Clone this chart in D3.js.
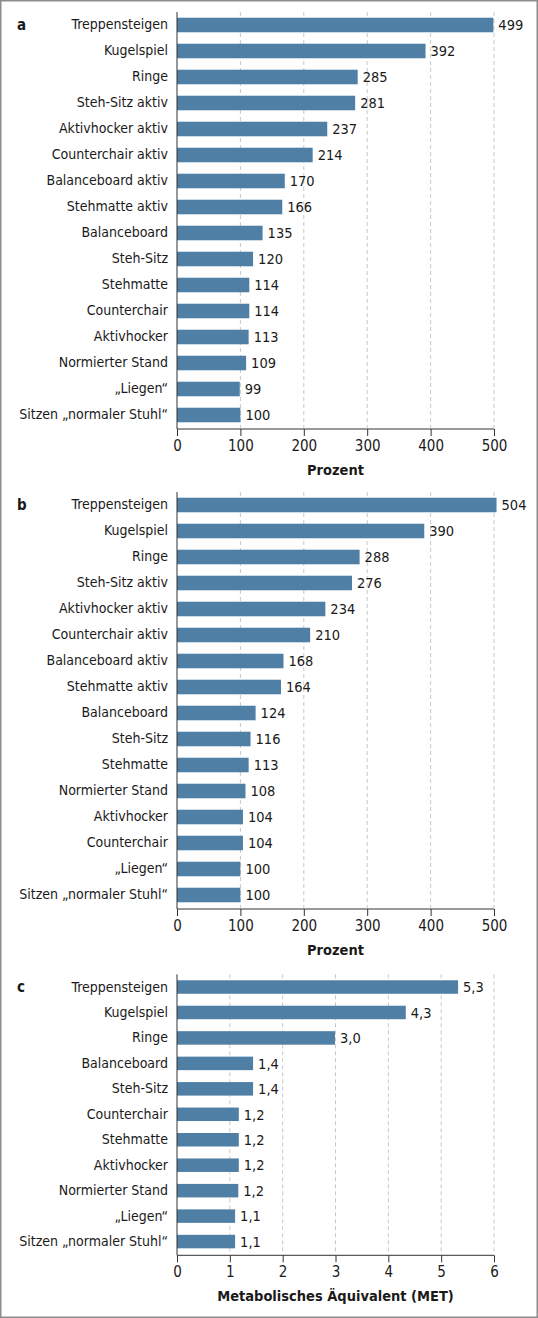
<html>
<head>
  <meta http-equiv="Content-Type" content="text/html;charset=utf-8"/>
  <script src="https://cdn.jsdelivr.net/npm/d3@7/dist/d3.min.js"></script>
  <style>
    body { margin: 0; background: #fff; }
    svg text { font-family: "Liberation Sans Narrow", "DejaVu Sans Condensed", "Liberation Sans", sans-serif; fill: #1a1a1a; }
    .grid line { stroke: #c8c8c8; stroke-dasharray: 4,3; }
    .axis path, .axis line { stroke: #333; }
  </style>
</head>
<body>
  <div id="chart"></div>
  <script>
  // panel a: Prozent (Variante 1)
  var catsA = ["Treppensteigen", "Kugelspiel", "Ringe", "Steh-Sitz aktiv", "Aktivhocker aktiv",
    "Counterchair aktiv", "Balanceboard aktiv", "Stehmatte aktiv", "Balanceboard", "Steh-Sitz",
    "Stehmatte", "Counterchair", "Aktivhocker", "Normierter Stand", "\u201eLiegen\u201c",
    "Sitzen \u201enormaler Stuhl\u201c"];
  var valsA = [499, 392, 285, 281, 237, 214, 170, 166, 135, 120, 114, 114, 113, 109, 99, 100];

  // panel b: Prozent (Variante 2)
  var catsB = ["Treppensteigen", "Kugelspiel", "Ringe", "Steh-Sitz aktiv", "Aktivhocker aktiv",
    "Counterchair aktiv", "Balanceboard aktiv", "Stehmatte aktiv", "Balanceboard", "Steh-Sitz",
    "Stehmatte", "Normierter Stand", "Aktivhocker", "Counterchair", "\u201eLiegen\u201c",
    "Sitzen \u201enormaler Stuhl\u201c"];
  var valsB = [504, 390, 288, 276, 234, 210, 168, 164, 124, 116, 113, 108, 104, 104, 100, 100];

  // panel c: MET
  var catsC = ["Treppensteigen", "Kugelspiel", "Ringe", "Balanceboard", "Steh-Sitz", "Counterchair",
    "Stehmatte", "Aktivhocker", "Normierter Stand", "\u201eLiegen\u201c", "Sitzen \u201enormaler Stuhl\u201c"];
  var valsC = [5.32, 4.33, 2.99, 1.44, 1.44, 1.17, 1.17, 1.17, 1.16, 1.10, 1.10];

  var ticksPct = [0, 100, 200, 300, 400, 500];
  var ticksMet = [0, 1, 2, 3, 4, 5, 6];

  var W = 538, H = 1318;
  var barColor = "#507fa5";
  var x0 = 177, x1 = 494;

  var svg = d3.select("#chart").append("svg")
    .attr("width", W).attr("height", H);

  svg.append("rect")
    .attr("x", 0.75).attr("y", 0.75)
    .attr("width", W - 1.5).attr("height", H - 1.5)
    .attr("fill", "none").attr("stroke", "#8c8c8c").attr("stroke-width", 1.5);

  var commaFmt = function(f) {
    return function(v) { return f(v).replace(".", ","); };
  };

  function drawPanel(cfg) {
    var x = d3.scaleLinear().domain(cfg.domain).range([x0, x1]);
    var y = d3.scaleBand().domain(cfg.cats).range([cfg.top, cfg.bottom]).paddingInner(cfg.pad).paddingOuter(cfg.pad / 2);
    var g = svg.append("g");

    // dashed grid behind the bars
    g.append("g").attr("class", "grid")
      .selectAll("line").data(cfg.ticks.filter(function(t) { return t > 0; }))
      .enter().append("line")
      .attr("x1", function(d) { return x(d); }).attr("x2", function(d) { return x(d); })
      .attr("y1", cfg.top).attr("y2", cfg.bottom);

    g.selectAll("rect.bar").data(cfg.vals)
      .enter().append("rect").attr("class", "bar")
      .attr("x", x(0))
      .attr("y", function(d, i) { return y(cfg.cats[i]); })
      .attr("width", function(d) { return x(d) - x(0); })
      .attr("height", y.bandwidth())
      .attr("fill", barColor);

    g.selectAll("text.val").data(cfg.vals)
      .enter().append("text").attr("class", "val")
      .attr("x", function(d) { return x(d) + 5; })
      .attr("y", function(d, i) { return y(cfg.cats[i]) + y.bandwidth() / 2; })
      .attr("dy", "0.36em")
      .style("font-size", "14.5px")
      .text(function(d) { return cfg.fmt(d); });

    // category labels
    var yAxis = d3.axisLeft(y).tickSize(0).tickPadding(9);
    var ya = g.append("g").attr("class", "axis")
      .attr("transform", "translate(" + x(0) + ",0)")
      .call(yAxis);
    ya.select(".domain").attr("d", "M0," + cfg.top + "V" + (cfg.bottom + 1));
    ya.selectAll("text").style("font-size", "14px").attr("fill", "#1a1a1a");

    var xAxis = d3.axisBottom(x).tickValues(cfg.ticks).tickSize(7).tickPadding(4)
      .tickFormat(function(d) { return String(d); });
    var xa = g.append("g").attr("class", "axis")
      .attr("transform", "translate(0," + (cfg.bottom + 1) + ")")
      .call(xAxis);
    xa.select(".domain").attr("d", "M" + x0 + ",0H" + x1);
    xa.selectAll("text").style("font-size", "15px").attr("fill", "#1a1a1a");

    g.append("text")
      .attr("x", (x0 + x1) / 2).attr("y", cfg.bottom + 47)
      .attr("text-anchor", "middle")
      .style("font-size", "14.5px").style("font-weight", "bold")
      .text(cfg.title);

    g.append("text")
      .attr("x", 17).attr("y", y(cfg.cats[0]) + y.bandwidth() / 2)
      .attr("dy", "0.36em")
      .style("font-size", "15px").style("font-weight", "bold")
      .text(cfg.letter);
  }

  drawPanel({ letter: "a", cats: catsA, vals: valsA, domain: [0, 500], ticks: ticksPct,
    top: 12, bottom: 428, pad: 0.44, title: "Prozent", fmt: d3.format("d") });
  drawPanel({ letter: "b", cats: catsB, vals: valsB, domain: [0, 500], ticks: ticksPct,
    top: 492, bottom: 908, pad: 0.44, title: "Prozent", fmt: d3.format("d") });
  drawPanel({ letter: "c", cats: catsC, vals: valsC, domain: [0, 6], ticks: ticksMet,
    top: 974.3, bottom: 1254.3, pad: 0.47, title: "Metabolisches \u00c4quivalent (MET)",
    fmt: commaFmt(d3.format(".1f")) });
  </script>
</body>
</html>
